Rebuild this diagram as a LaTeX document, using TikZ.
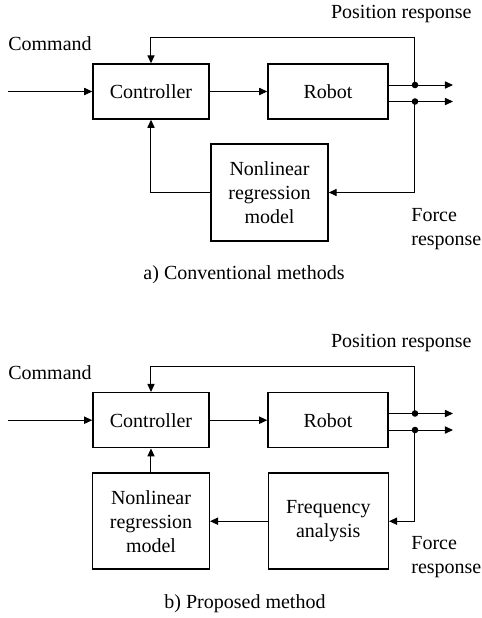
\documentclass[tikz,border=0pt]{standalone}
\usepackage{fontspec}
\setmainfont{Liberation Serif}
\usetikzlibrary{arrows.meta}
\begin{document}
\begin{tikzpicture}[x=0.5pt,y=-0.5pt,
  every node/.style={font=\fontsize{10pt}{12pt}\selectfont},
  blk/.style={draw, line width=0.75pt, align=center, inner sep=0pt},
  conn/.style={line width=0.5pt},
  arr/.style={conn, -{Triangle[length=4pt,width=3.6pt]}},
  lbl/.style={inner sep=0pt},
  dot/.style={circle, fill, inner sep=0pt, minimum size=3.3pt}]
\useasboundingbox (0,0) rectangle (482,618);

% ---------- a) Conventional methods ----------
\node[blk, minimum width=58pt, minimum height=27.5pt] (c1) at (151,91.5) {Controller};
\node[blk, minimum width=60pt, minimum height=27.5pt] (r1) at (328,91.5) {Robot};
\node[blk, minimum width=58.5pt, minimum height=48.5pt] (n1) at (269.5,192.5) {Nonlinear\\regression\\model};

\coordinate (in1) at (8,91.5);
\coordinate (d1a) at (415,85);
\coordinate (d1b) at (415,101.5);
\coordinate (o1a) at (453,85);
\coordinate (o1b) at (453,101.5);
\coordinate (p1) at (415,37.7);
\coordinate (f1) at (415,192.5);

\draw[arr] (in1) -- (c1.west);
\draw[arr] (c1) -- (r1);
\draw[conn] (r1.east |- d1a) -- (d1a);
\draw[arr] (d1a) -- (o1a);
\draw[conn] (r1.east |- d1b) -- (d1b);
\draw[arr] (d1b) -- (o1b);
\draw[arr] (d1a) -- (p1) -| (c1.north);
\draw[arr] (d1b) -- (f1) -- (n1.east);
\draw[arr] (n1.west) -| (c1.south);
\node[dot] (dt1a) at (d1a) {};
\node[dot] (dt1b) at (d1b) {};

\node[lbl, anchor=base] (cmd1) at (50,50) {Command};
\node[lbl, anchor=base east] (pos1) at (472,18.5) {Position response};
\node[lbl, anchor=north west, align=left] (frc1) at (411,208) {Force\\response};
\node[lbl, anchor=base] (cap1) at (244,279) {a) Conventional methods};

% ---------- b) Proposed method ----------
\node[blk, minimum width=58pt, minimum height=27.5pt] (c2) at (151,420.2) {Controller};
\node[blk, minimum width=60pt, minimum height=27.5pt] (r2) at (328,420.2) {Robot};
\node[blk, minimum width=58.3pt, minimum height=48pt] (n2) at (151,521.2) {Nonlinear\\regression\\model};
\node[blk, minimum width=60pt, minimum height=48pt] (fa2) at (328.3,521.2) {Frequency\\analysis};

\coordinate (in2) at (8,420.2);
\coordinate (d2a) at (415,413.5);
\coordinate (d2b) at (415,430);
\coordinate (o2a) at (453,413.5);
\coordinate (o2b) at (453,430);
\coordinate (p2) at (415,366.7);
\coordinate (f2) at (415,521.2);

\draw[arr] (in2) -- (c2.west);
\draw[arr] (c2) -- (r2);
\draw[conn] (r2.east |- d2a) -- (d2a);
\draw[arr] (d2a) -- (o2a);
\draw[conn] (r2.east |- d2b) -- (d2b);
\draw[arr] (d2b) -- (o2b);
\draw[arr] (d2a) -- (p2) -| (c2.north);
\draw[arr] (d2b) -- (f2) -- (fa2.east);
\draw[arr] (fa2.west) -- (n2.east);
\draw[arr] (n2.north) -- (c2.south);
\node[dot] (dt2a) at (d2a) {};
\node[dot] (dt2b) at (d2b) {};

\node[lbl, anchor=base] (cmd2) at (50,379) {Command};
\node[lbl, anchor=base east] (pos2) at (472,347.7) {Position response};
\node[lbl, anchor=north west, align=left] (frc2) at (411,536) {Force\\response};
\node[lbl, anchor=base] (cap2) at (245,608) {b) Proposed method};
\end{tikzpicture}
\end{document}
